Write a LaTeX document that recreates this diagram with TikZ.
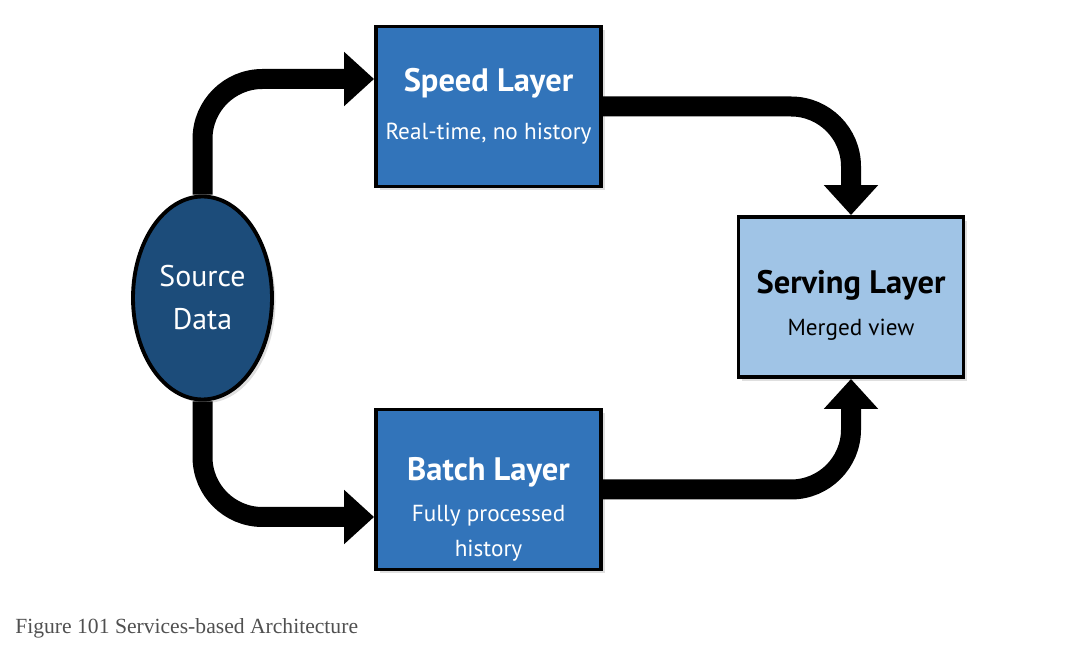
\documentclass[tikz,border=0pt]{standalone}
\usepackage{fontspec}
\setmainfont{PT Sans}
\newfontfamily\capfont{Liberation Serif}
\usepackage{tikz}
\usetikzlibrary{shapes.geometric, arrows.meta, positioning, calc, shadows}
\definecolor{laymid}{RGB}{50,116,186}
\definecolor{laylight}{RGB}{160,196,230}
\definecolor{laydark}{RGB}{28,76,122}
\definecolor{capgray}{RGB}{80,80,80}
\newcommand{\ttlfont}{\fontsize{18.5}{24}\selectfont\bfseries}
\newcommand{\subfont}{\fontsize{13.2}{20}\selectfont}
\tikzset{
  layer/.style={rectangle, draw=black, fill=laymid, text=white,
    minimum width=4.5cm, minimum height=3.2cm, align=center,
    line width=2.2pt, inner sep=2pt, font=\subfont,
    drop shadow={opacity=0.25, shadow xshift=2pt, shadow yshift=-2pt}},
  servebox/.style={layer, fill=laylight, text=black},
  srcnode/.style={ellipse, draw=black, fill=laydark, text=white,
    minimum width=2.78cm, minimum height=4.06cm, align=center,
    line width=2.2pt, font=\fontsize{17}{24.5}\selectfont,
    drop shadow={opacity=0.25, shadow xshift=2pt, shadow yshift=-2pt}},
  flow/.style={-{Triangle[length=0.6cm, width=1.05cm]}, line width=0.4cm,
    rounded corners=1.2cm, color=black}
}
\begin{document}
\begin{tikzpicture}
  \useasboundingbox (0,0) rectangle (21.62,12.96);

  % Nodes
  \node[srcnode] (src) at (4.05,7.0) {Source\\Data};
  \node[layer] (speed) at (9.77,10.83)
    {{\ttlfont Speed Layer}\\[7pt]
     Real-time, no history};
  \node[layer] (batch) at (9.77,3.17)
    {\rule{0pt}{36pt}{\ttlfont Batch Layer}\\[3pt]
     Fully processed\\
     history};
  \node[servebox] (serve) at (17.02,7.02)
    {\rule{0pt}{23pt}{\ttlfont Serving Layer}\\[4pt]
     Merged view};

  % Flows
  \draw[flow] (src.north) |- ([yshift=0.55cm]speed.west);
  \draw[flow] (src.south) |- ([yshift=-0.55cm]batch.west);
  \draw[flow] (speed.east) -| (serve.north);
  \draw[flow] (batch.east) -| (serve.south);

  % Caption
  \node[anchor=base west, inner sep=0pt, font=\capfont\fontsize{12.3}{15}\selectfont, text=capgray] (cap) at (0.3,0.3) {Figure 101 Services-based Architecture};
\end{tikzpicture}
\end{document}
